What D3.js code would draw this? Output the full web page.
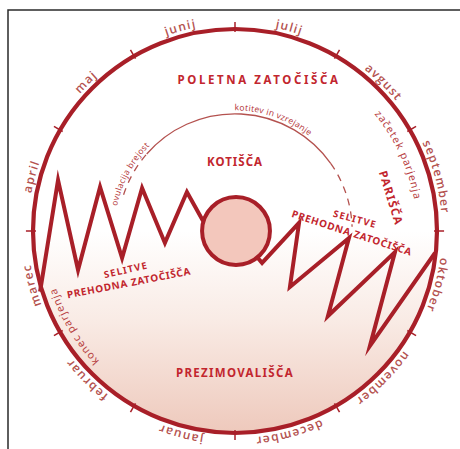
<!DOCTYPE html>
<html>
<head>
<meta charset="utf-8">
<script src="https://cdn.jsdelivr.net/npm/d3@7"></script>
<style>
  body { margin: 0; background: #fff; }
</style>
</head>
<body>
<div id="chart"></div>
<script>
// months, clockwise from the top of the wheel
var months = ["julij", "avgust", "september", "oktober", "november", "december",
              "januar", "februar", "marec", "april", "maj", "junij"];

// labels that run along arcs: text, radius (unit), centre (month position)
var arcLabels = ["začetek parjenja", "konec parjenja", "kotitev in vzrejanje", "ovulacija brejost"];
var arcLabelMonth = [2.17, 7.98, 0.63, 9.95];
var arcLabelRadius = [0.9, 0.93, 0.597, 0.597];

// inner cycle arc (month positions): solid part and dashed ends
var cycleSolid = [10.37, 1.83];
var cycleDashed = [[9.6, 10.37], [1.83, 2.93]];

// zigzag route, unit coords (circle radius = 1)
var routeLeftX = [-0.965, -0.876, -0.777, -0.668, -0.559, -0.460, -0.347, -0.238, -0.158];
var routeLeftY = [0.300, -0.252, 0.193, -0.218, 0.134, -0.213, 0.059, -0.193, -0.050];
var routeRightX = [0.109, 0.134, 0.317, 0.272, 0.564, 0.460, 0.792, 0.668, 0.990];
var routeRightY = [0.129, 0.158, -0.040, 0.277, 0.035, 0.421, 0.104, 0.569, 0.109];

// area names
var zoneNames = ["POLETNA ZATOČIŠČA", "KOTIŠČA", "PREZIMOVALIŠČA", "PARIŠČA",
                 "SELITVE", "PREHODNA ZATOČIŠČA", "SELITVE", "PREHODNA ZATOČIŠČA"];
var zoneX = [0.119, 0, 0, 0.772, 0.594, 0.579, -0.540, -0.525];
var zoneY = [-0.748, -0.342, 0.703, -0.163, -0.059, 0.010, 0.193, 0.257];
var zoneRot = [0, 0, 0, 73, 15, 18, -13, -11];
var zoneSize = [11.5, 11.5, 11.5, 11.5, 9.5, 10, 9.5, 10];
var zoneSpacing = [2.6, 1, 1.3, 1.2, 1.2, 0.7, 1.2, 0.7];

var width = 460, height = 449;
var cx = 235, cy = 231, R = 202;
var dark = "#a81f28", red = "#c2262e", soft = "#b4524f";
var fontFamily = "'Noto Sans', 'DejaVu Sans', sans-serif";

var svg = d3.select("#chart").append("svg")
  .attr("width", width).attr("height", height);

var x = d3.scaleLinear().domain([-1, 1]).range([cx - R, cx + R]);
var y = d3.scaleLinear().domain([-1, 1]).range([cy - R, cy + R]);
var r = d3.scaleLinear().domain([0, 1]).range([0, R]);
var angle = d3.scaleLinear().domain([0, 12]).range([0, 2 * Math.PI]);

function pt(rad, a) { return [cx + rad * Math.sin(a), cy - rad * Math.cos(a)]; }
function arcPath(rad, a0, a1) {
  var p0 = pt(rad, a0), p1 = pt(rad, a1);
  var large = (a1 - a0) > Math.PI ? 1 : 0;
  return "M" + p0[0] + "," + p0[1] + "A" + rad + "," + rad + " 0 " + large + " 1 " + p1[0] + "," + p1[1];
}

var defs = svg.append("defs");
var grad = defs.append("linearGradient").attr("id", "winter")
  .attr("x1", 0).attr("y1", 0).attr("x2", 0).attr("y2", 1);
grad.append("stop").attr("offset", "0.5").attr("stop-color", "#ffffff");
grad.append("stop").attr("offset", "0.72").attr("stop-color", "#f9ebe5");
grad.append("stop").attr("offset", "1").attr("stop-color", "#eec9bc");

// frame
svg.append("path").attr("d", "M8,449V10H460")
  .attr("fill", "none").attr("stroke", "#2a2a2a").attr("stroke-width", 1.5);

// outer wheel
svg.append("circle").attr("cx", x(0)).attr("cy", y(0)).attr("r", r(1))
  .attr("fill", "url(#winter)").attr("stroke", dark).attr("stroke-width", 4.2);

// month ticks
svg.selectAll(".tick").data(d3.range(12)).enter().append("line")
  .attr("x1", function(d){ return pt(r(0.985), angle(d))[0]; })
  .attr("y1", function(d){ return pt(r(0.985), angle(d))[1]; })
  .attr("x2", function(d){ return pt(r(1.035), angle(d))[0]; })
  .attr("y2", function(d){ return pt(r(1.035), angle(d))[1]; })
  .attr("stroke", dark).attr("stroke-width", 1.5);

// month labels
months.forEach(function(m, i) {
  var mid = angle(i + 0.5);
  defs.append("path").attr("id", "m" + i)
    .attr("d", arcPath(r(1.025), mid - 0.6, mid + 0.6));
  svg.append("text")
    .attr("font-family", "'Open Sans', 'Noto Sans', sans-serif").attr("font-size", 12)
    .attr("font-weight", 600)
    .attr("letter-spacing", 1.3).attr("fill", soft)
    .append("textPath").attr("href", "#m" + i)
    .attr("startOffset", "50%").attr("text-anchor", "middle")
    .text(m);
});

// inner cycle arc
svg.append("path").attr("d", arcPath(r(0.58), angle(cycleSolid[0]) - 2 * Math.PI, angle(cycleSolid[1])))
  .attr("fill", "none").attr("stroke", soft).attr("stroke-width", 1.3);
cycleDashed.forEach(function(seg) {
  var a0 = angle(seg[0]), a1 = angle(seg[1]);
  if (seg[0] > 6) { a0 -= 2 * Math.PI; a1 -= 2 * Math.PI; }
  svg.append("path").attr("d", arcPath(r(0.58), a0, a1))
    .attr("fill", "none").attr("stroke", soft).attr("stroke-width", 1.3)
    .attr("stroke-dasharray", "7,6");
});

// labels along arcs
arcLabels.forEach(function(t, i) {
  var mid = angle(arcLabelMonth[i]);
  defs.append("path").attr("id", "a" + i)
    .attr("d", arcPath(r(arcLabelRadius[i]), mid - 1.2, mid + 1.2));
  var big = arcLabelRadius[i] > 0.8;
  svg.append("text")
    .attr("font-family", fontFamily).attr("font-size", big ? 10.5 : 8.5)
    .attr("letter-spacing", big ? 1 : 0.3).attr("fill", "#b7403f")
    .append("textPath").attr("href", "#a" + i)
    .attr("startOffset", "50%").attr("text-anchor", "middle")
    .text(t);
});

// migration route
var line = d3.line().x(function(d){ return x(d[0]); }).y(function(d){ return y(d[1]); });
[[routeLeftX, routeLeftY], [routeRightX, routeRightY]].forEach(function(s) {
  svg.append("path")
    .attr("d", line(d3.zip(s[0], s[1])))
    .attr("fill", "none").attr("stroke", dark).attr("stroke-width", 4)
    .attr("stroke-linejoin", "miter").attr("stroke-miterlimit", 10);
});

// breeding ball
svg.append("circle").attr("cx", x(0.005)).attr("cy", y(0)).attr("r", r(0.168))
  .attr("fill", "#f3c7bc").attr("stroke", dark).attr("stroke-width", 4);

// zone names
zoneNames.forEach(function(t, i) {
  svg.append("text")
    .attr("transform", "translate(" + x(zoneX[i]) + "," + y(zoneY[i]) + ") rotate(" + zoneRot[i] + ")")
    .attr("text-anchor", "middle").attr("dy", "0.35em")
    .attr("font-family", fontFamily).attr("font-weight", "bold")
    .attr("font-size", zoneSize[i]).attr("letter-spacing", zoneSpacing[i]).attr("fill", red)
    .text(t);
});
</script>
</body>
</html>
